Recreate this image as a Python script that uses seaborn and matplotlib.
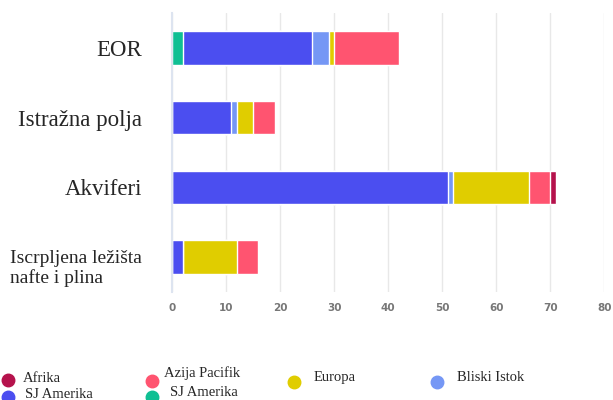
import numpy as np
import pandas as pd
import matplotlib
matplotlib.use("Agg")
import matplotlib.pyplot as plt
import matplotlib.transforms as mtrans
from matplotlib.lines import Line2D
import seaborn as sns

categories = ["EOR", "Istražna polja", "Akviferi", "Iscrpljena ležišta\nnafte i plina"]
series = ["SJ Amerika (2)", "SJ Amerika", "Bliski Istok", "Europa", "Azija Pacifik", "Afrika"]
sj_amerika_green = [2, 0, 0, 0]
sj_amerika_blue = [24, 11, 51, 2]
bliski_istok = [3, 1, 1, 0]
europa = [1, 3, 14, 10]
azija_pacifik = [12, 4, 4, 4]
afrika = [0, 0, 1, 0]
colors = ["#0fbf93", "#4b4ef0", "#7597f5", "#e0cd00", "#ff5470", "#b5124c"]

values = [sj_amerika_green, sj_amerika_blue, bliski_istok, europa, azija_pacifik, afrika]
df = pd.DataFrame(dict(zip(series, values)), index=categories)
cum = df.cumsum(axis=1)

sns.set_style("white")
W, H = 613, 400
fig = plt.figure(figsize=(6.13, 4.0), dpi=100)
ax = fig.add_axes([0.2806, 0.27, 0.705, 0.6975])

# draw cumulative layers from the back so they look stacked
for name, col in reversed(list(zip(series, colors))):
    d = pd.DataFrame({"cat": categories, "val": cum[name].values})
    sns.barplot(data=d, x="val", y="cat", orient="h", color=col, width=0.48,
                saturation=1, edgecolor="white", linewidth=1, ax=ax)

ax.set_xlim(0, 80)
ax.set_xticks(range(0, 81, 10))
ax.set_xlabel("")
ax.set_ylabel("")
ax.grid(axis="x", color="#e8e8e8", linewidth=1)
ax.set_axisbelow(True)
for s in ["top", "right", "bottom"]:
    ax.spines[s].set_visible(False)
ax.spines["left"].set_color("#dde4f0")
ax.spines["left"].set_linewidth(1.5)
ax.tick_params(axis="x", length=0, pad=8, labelsize=7.5, labelcolor="#777777")
ax.tick_params(axis="y", length=0, pad=21.5)
for t in ax.get_xticklabels():
    t.set_fontweight("bold")
for i, t in enumerate(ax.get_yticklabels()):
    t.set_fontfamily("Liberation Serif")
    t.set_fontsize(16.5 if i < 3 else 14)
    t.set_multialignment("left")
    if i == 3:
        t.set_linespacing(1.17)
        t.set_transform(t.get_transform() + mtrans.ScaledTranslation(0, -8 / 100, fig.dpi_scale_trans))

# legend entries placed like the original (pixel positions)
legend_items = [("Afrika", colors[5], 8, 380, 23, 382),
                ("SJ Amerika", colors[1], 8, 397, 25, 398),
                ("Azija Pacifik", colors[4], 152, 381, 164, 377),
                ("SJ Amerika", colors[0], 152, 397, 170, 396),
                ("Europa", colors[3], 294, 382, 314, 381),
                ("Bliski Istok", colors[2], 437, 382, 457, 381)]
for lab, col, mx, my, tx, ty in legend_items:
    fig.add_artist(Line2D([mx / W], [1 - my / H], marker="o", linestyle="none",
                          markersize=9, markerfacecolor=col, markeredgecolor=col,
                          transform=fig.transFigure))
    fig.text(tx / W, 1 - ty / H, lab, family="Liberation Serif", fontsize=10.5,
             va="baseline", ha="left")

fig.savefig("out.png", dpi=100)
